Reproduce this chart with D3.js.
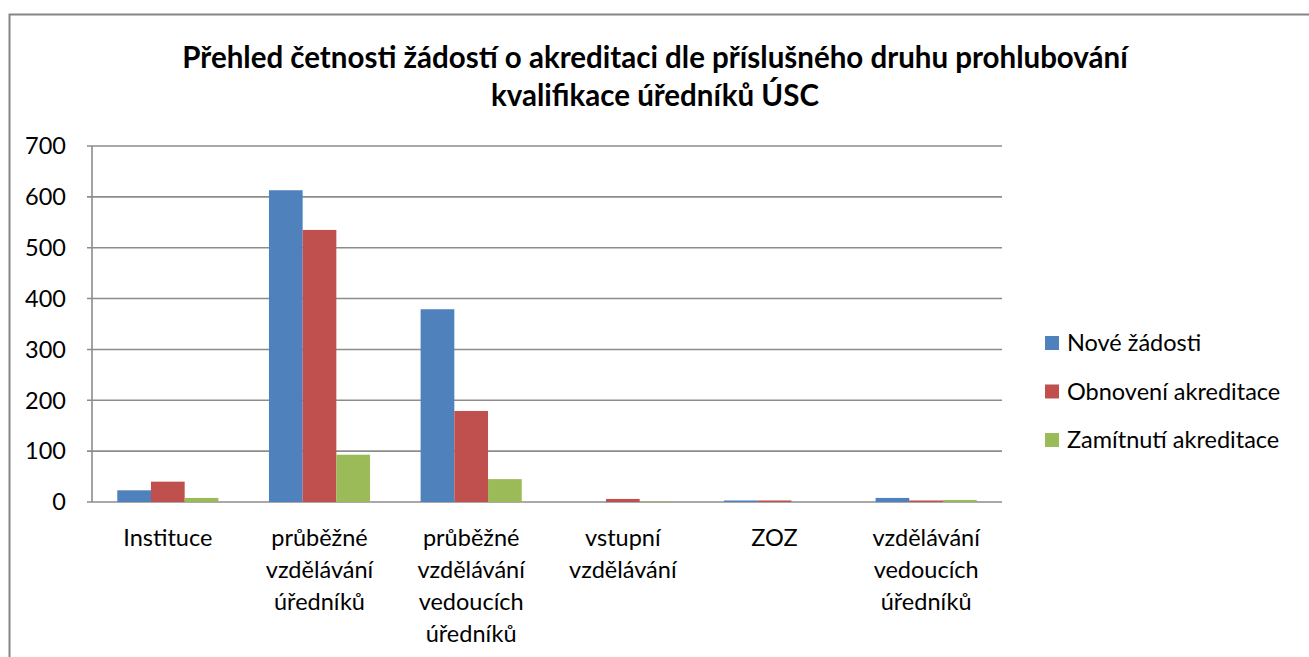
<!DOCTYPE html>
<html>
<head>
<meta charset="utf-8">
<script src="https://cdn.jsdelivr.net/npm/d3@7"></script>
<style>
  body { margin: 0; background: #fff; }
  text { font-family: Lato, "Open Sans", sans-serif; fill: #000; }
</style>
</head>
<body>
<div id="chart"></div>
<script>
const categories = [
  ['Instituce'],
  ['průběžné', 'vzdělávání', 'úředníků'],
  ['průběžné', 'vzdělávání', 'vedoucích', 'úředníků'],
  ['vstupní', 'vzdělávání'],
  ['ZOZ'],
  ['vzdělávání', 'vedoucích', 'úředníků']
]
const seriesNames = ['Nové žádosti', 'Obnovení akreditace', 'Zamítnutí akreditace']
const colors = ['#4F81BD', '#C0504D', '#9BBB59']
const nove = [23, 613, 379, 0, 3, 8]
const obnoveni = [40, 535, 179, 6, 3, 3]
const zamitnuti = [8, 93, 45, 1, 0, 4]
const yTicks = [0, 100, 200, 300, 400, 500, 600, 700]

const series = [nove, obnoveni, zamitnuti]
const width = 1309
const height = 657
const margin = {left: 92, right: 307, top: 146, bottom: 155}
const fontSize = 23.5

const svg = d3.select('#chart')
    .append('svg')
    .attr('width', width)
    .attr('height', height)

// outer chart border
svg.append('rect')
    .attr('x', 9.5)
    .attr('y', 14.5)
    .attr('width', 1320)
    .attr('height', 680)
    .attr('fill', 'none')
    .attr('stroke', '#868686')
    .attr('stroke-width', 2)

const title = svg.append('text')
    .attr('text-anchor', 'middle')
    .attr('font-weight', 'bold')
    .attr('font-size', 29.5)
title.append('tspan').attr('x', 655).attr('y', 68)
    .text('Přehled četnosti žádostí o akreditaci dle příslušného druhu prohlubování')
title.append('tspan').attr('x', 655).attr('y', 106)
    .text('kvalifikace úředníků ÚSC')

const x0 = d3.scaleBand()
    .domain(d3.range(categories.length))
    .range([margin.left, width - margin.right])

const x1 = d3.scaleBand()
    .domain(d3.range(series.length))
    .range([0, x0.bandwidth()])
    .paddingOuter(0.75)
    .paddingInner(0)

const y = d3.scaleLinear()
    .domain([0, 700])
    .range([height - margin.bottom, margin.top])

// gridlines
svg.append('g')
    .selectAll('line')
    .data(yTicks)
    .enter()
    .append('line')
    .attr('x1', margin.left - 5)
    .attr('x2', width - margin.right)
    .attr('y1', d => y(d))
    .attr('y2', d => y(d))
    .attr('stroke', '#8c8c8c')
    .attr('stroke-width', 1.6)

svg.append('line')
    .attr('x1', margin.left)
    .attr('x2', margin.left)
    .attr('y1', y(700))
    .attr('y2', y(0))
    .attr('stroke', '#8c8c8c')
    .attr('stroke-width', 1.6)

svg.append('g')
    .selectAll('text')
    .data(yTicks)
    .enter()
    .append('text')
    .attr('x', 66)
    .attr('y', d => y(d))
    .attr('dy', '0.35em')
    .attr('text-anchor', 'end')
    .attr('font-size', fontSize)
    .text(d => d)

// bars
series.forEach((vals, s) => {
    svg.append('g')
        .selectAll('rect')
        .data(vals)
        .enter()
        .append('rect')
        .attr('x', (d, i) => x0(i) + x1(s))
        .attr('width', x1.bandwidth())
        .attr('y', d => y(d))
        .attr('height', d => y(0) - y(d))
        .attr('fill', colors[s])
})

// category labels
const catG = svg.append('g')
    .selectAll('text')
    .data(categories)
    .enter()
    .append('text')
    .attr('text-anchor', 'middle')
    .attr('font-size', fontSize)

catG.selectAll('tspan')
    .data((d, i) => d.map(line => ({line, i})))
    .enter()
    .append('tspan')
    .attr('x', d => x0(d.i) + x0.bandwidth() / 2)
    .attr('y', (d, j) => 546 + j * 32)
    .text(d => d.line)

// legend
const legend = svg.append('g')
    .selectAll('g')
    .data(seriesNames)
    .enter()
    .append('g')
    .attr('transform', (d, i) => `translate(1045, ${343 + i * 48.5})`)

legend.append('rect')
    .attr('x', 0)
    .attr('y', -7)
    .attr('width', 14)
    .attr('height', 14)
    .attr('fill', (d, i) => colors[i])

legend.append('text')
    .attr('x', 22)
    .attr('y', 0)
    .attr('dy', '0.35em')
    .attr('font-size', fontSize)
    .text(d => d)
</script>
</body>
</html>
